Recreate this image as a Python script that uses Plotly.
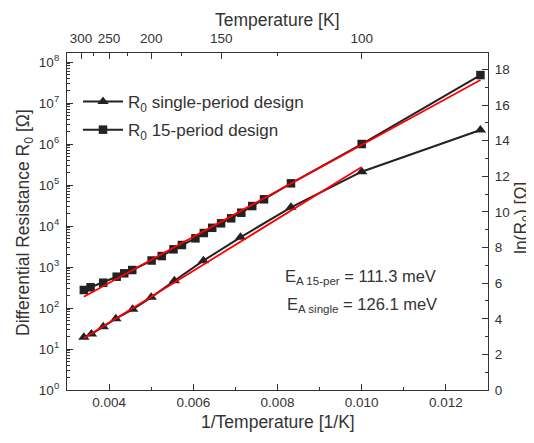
import math
import plotly.graph_objects as go

# ---- data ----
inv_T_single = [0.00340, 0.00358, 0.00386, 0.00416, 0.00456, 0.00500, 0.00555,
                0.00624, 0.00712, 0.00832, 0.01000, 0.01282]
R0_single = [19.3, 23.2, 35, 55, 93, 182, 463, 1425, 5300, 28600, 211000, 2.19e6]

inv_T_15 = [0.00340, 0.00356, 0.00386, 0.00418, 0.00436, 0.00455, 0.00501, 0.00525,
            0.00553, 0.00573, 0.00605, 0.00625, 0.00645, 0.00666, 0.00690, 0.00714,
            0.00740, 0.00768, 0.00832, 0.01000, 0.01282]
R0_15 = [275, 320, 414, 580, 702, 845, 1440, 1850, 2700, 3440, 5000, 6750, 9040,
         11640, 15400, 21100, 30700, 44800, 110000, 1.0e6, 4.8e7]

fit_15_x = [0.00340, 0.01282]
fit_15_y = [189, 3.64e7]
fit_single_x = [0.00340, 0.01000]
fit_single_y = [18.2, 2.75e5]

top_T_major = [300, 250, 200, 150, 100]
top_T_minor = [275, 225, 175, 125]

x_ticks = [0.004, 0.006, 0.008, 0.010, 0.012]
x_ticktext = ["0.004", "0.006", "0.008", "0.010", "0.012"]
y_exponents = list(range(0, 9))
ln_ticks = list(range(0, 19, 2))

LOG_TOP = 8.22
FONT = "Liberation Sans, Arial, sans-serif"
AX = "#333333"
DARK = "#222222"

# the page body has an 8px margin, so the figure is offset by 8px in the window
OFF = 8
W, H = 534 - OFF, 443 - OFF
ML, MR, MT, MB = 59, 46, 45, 53
PW, PH = W - ML - MR, H - MT - MB


def px_x(p):  # page pixel -> paper
    return (p - OFF - ML) / PW


def px_y(p):
    return 1 - (p - OFF - MT) / PH


fig = go.Figure()

fig.add_trace(go.Scatter(
    x=inv_T_single, y=R0_single, mode="lines+markers",
    name="R<sub>0</sub> single-period design", legendgroup="a",
    line=dict(color=DARK, width=2),
    marker=dict(symbol="triangle-up", size=10, color=DARK),
))
fig.add_trace(go.Scatter(
    x=inv_T_15, y=R0_15, mode="lines+markers",
    name="R<sub>0</sub> 15-period design", legendgroup="b",
    line=dict(color=DARK, width=2),
    marker=dict(symbol="square", size=8.5, color=DARK),
))
fig.add_trace(go.Scatter(
    x=fit_15_x, y=fit_15_y, mode="lines", showlegend=False,
    line=dict(color="#ff0000", width=1.8), hoverinfo="skip",
))
fig.add_trace(go.Scatter(
    x=fit_single_x, y=fit_single_y, mode="lines", showlegend=False,
    line=dict(color="#ff0000", width=1.8), hoverinfo="skip",
))
# dummy trace to activate the top / right axes
fig.add_trace(go.Scatter(
    x=[None], y=[None], xaxis="x2", yaxis="y2", showlegend=False, hoverinfo="skip",
))

tickfont = dict(family=FONT, size=13.5, color=AX)
TITLE_SIZE = 17.5

common = dict(showgrid=False, zeroline=False, showline=True, linecolor=AX, linewidth=1.3,
              ticks="inside", ticklen=6, tickcolor=AX, tickwidth=1.2,
              tickfont=tickfont, automargin=False)

fig.update_layout(
    width=W, height=H,
    margin=dict(l=ML, r=MR, t=MT, b=MB),
    paper_bgcolor="white", plot_bgcolor="white",
    font=dict(family=FONT, color=AX),
    xaxis=dict(
        range=[0.003, 0.013], tickvals=x_ticks, ticktext=x_ticktext,
        minor=dict(ticks="inside", ticklen=3, dtick=0.001, tick0=0.003,
                   tickcolor=AX, showgrid=False),
        ticklabelstandoff=0, **common,
    ),
    xaxis2=dict(
        overlaying="x", side="top", range=[0.003, 0.013],
        tickvals=[1.0 / t for t in top_T_major],
        ticktext=[str(t) for t in top_T_major],
        minor=dict(ticks="inside", ticklen=3, tickcolor=AX,
                   tickvals=[1.0 / t for t in top_T_minor], showgrid=False),
        ticklabelstandoff=3, **common,
    ),
    yaxis=dict(
        type="log", range=[0, LOG_TOP],
        tickvals=[10 ** e for e in y_exponents],
        ticktext=["10<sup>%d</sup>" % e for e in y_exponents],
        minor=dict(ticks="inside", ticklen=3, dtick="D1", tickcolor=AX, showgrid=False),
        ticklabelstandoff=4, **common,
    ),
    yaxis2=dict(
        overlaying="y", side="right", range=[0, LOG_TOP * math.log(10)],
        tickvals=ln_ticks, ticktext=[str(v) for v in ln_ticks],
        minor=dict(ticks="inside", ticklen=3, dtick=1, tick0=0, tickcolor=AX, showgrid=False),
        ticklabelstandoff=3, **common,
    ),
    legend=dict(
        x=px_x(78), y=px_y(84), xanchor="left", yanchor="top",
        bgcolor="rgba(0,0,0,0)", font=dict(family=FONT, size=17, color=AX),
        tracegroupgap=3, itemwidth=40,
    ),
    showlegend=True,
)

ann_font = dict(family=FONT, size=16.5, color=AX)
title_font = dict(family=FONT, size=TITLE_SIZE, color=AX)

# axis titles as annotations for exact placement
fig.add_annotation(xref="paper", yref="paper", x=px_x(277.5), y=px_y(422),
                   text="1/Temperature [1/K]", showarrow=False,
                   xanchor="center", yanchor="middle", font=title_font)
fig.add_annotation(xref="paper", yref="paper", x=px_x(277.5), y=px_y(8),
                   text="Temperature [K]", showarrow=False,
                   xanchor="center", yanchor="top", font=title_font)
fig.add_annotation(xref="paper", yref="paper", x=px_x(24), y=px_y(223),
                   text="Differential Resistance R<sub>0</sub> [Ω]", showarrow=False,
                   textangle=-90, xanchor="center", yanchor="middle", font=title_font)
fig.add_annotation(xref="paper", yref="paper", x=px_x(523), y=px_y(218),
                   text="ln(R<sub>0</sub>) [Ω]", showarrow=False,
                   textangle=-90, xanchor="center", yanchor="middle", font=title_font)

# activation energies
fig.add_annotation(
    xref="paper", yref="paper", x=px_x(283), y=px_y(277),
    text="E<sub>A 15-per</sub> = 111.3 meV", showarrow=False,
    xanchor="left", yanchor="middle", font=ann_font,
)
fig.add_annotation(
    xref="paper", yref="paper", x=px_x(285), y=px_y(305),
    text="E<sub>A single</sub> = 126.1 meV", showarrow=False,
    xanchor="left", yanchor="middle", font=ann_font,
)

fig.write_html("out.html")
